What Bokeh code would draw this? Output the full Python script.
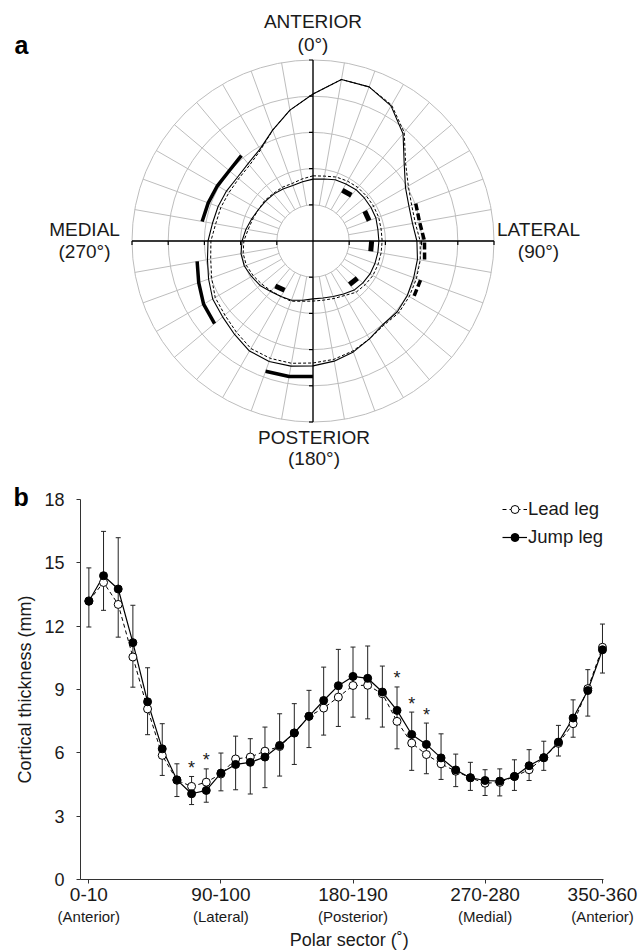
import numpy as np
from bokeh.plotting import figure
from bokeh.models import (Range1d, LinearAxis, FixedTicker, Whisker, ColumnDataSource,
                          Legend, LegendItem, TeeHead)
from bokeh.core.properties import value
from bokeh.embed import file_html
from bokeh.resources import INLINE

FONT = "Liberation Sans"
TXT = "#1a1a1a"

# ---------------- Panel a data (radius in mm at 0,10,...,350 deg, clockwise from anterior)
angles_deg = list(range(0, 360, 10))
outer_jump = [20.3, 22.65, 22.65, 21.55, 19.35, 16.45, 14.75, 14.1, 13.95, 14.35, 14.65, 14.8,
              15.05, 15.2, 15.05, 15.6, 16.3, 16.85, 17.25, 17.55, 17.7, 17.55, 16.85, 16.3,
              16.0, 15.35, 14.8, 14.5, 14.1, 13.95, 13.8, 13.65, 13.95, 14.65, 16.3, 18.35]
outer_lead = [20.3, 22.65, 22.65, 21.7, 19.6, 16.7, 15.2, 14.5, 14.35, 14.8, 15.05, 15.2,
              15.35, 15.45, 15.2, 15.6, 16.15, 16.6, 16.85, 17.15, 17.25, 17.15, 16.45, 15.9,
              15.6, 14.9, 14.35, 14.1, 13.65, 13.55, 13.4, 13.4, 13.65, 14.5, 16.3, 18.35]
inner_jump = [8.55, 8.7, 9.0, 9.1, 9.25, 9.25, 9.25, 9.25, 9.1, 9.1, 9.1, 9.1,
              9.1, 9.0, 8.85, 8.45, 8.15, 8.0, 8.0, 8.3, 8.7, 8.85, 9.1, 9.55,
              9.8, 10.1, 10.1, 9.8, 9.4, 9.0, 8.7, 8.55, 8.45, 8.3, 8.15, 8.3]
inner_lead = [9.0, 9.1, 9.4, 9.55, 9.65, 9.65, 9.65, 9.65, 9.55, 9.55, 9.55, 9.55,
              9.55, 9.4, 9.25, 8.7, 8.45, 8.3, 8.3, 8.45, 8.85, 8.85, 9.0, 9.25,
              9.55, 9.8, 9.8, 9.55, 9.1, 8.85, 8.7, 8.7, 8.55, 8.55, 8.45, 8.7]
ring_radii = [5, 10, 15, 20, 25]
sig_outer_jump = [(180, 200), (230, 260), (280, 320)]
sig_outer_lead = [(70, 100), (110, 120)]
sig_inner_lead = [(30, 40), (60, 70), (90, 100), (130, 140), (210, 220)]
dir_labels = ["ANTERIOR", "(0°)", "MEDIAL", "(270°)", "LATERAL", "(90°)", "POSTERIOR", "(180°)"]

# ---------------- Panel b data
sectors = list(range(36))
jump_leg = [13.18, 14.39, 13.76, 11.22, 8.42, 6.19, 4.72, 4.06, 4.22, 5.04, 5.45, 5.55,
            5.8, 6.35, 6.94, 7.73, 8.48, 9.18, 9.62, 9.53, 8.88, 8.01, 6.87, 6.40,
            5.76, 5.19, 4.82, 4.69, 4.66, 4.88, 5.39, 5.77, 6.51, 7.65, 8.95, 10.88]
lead_leg = [13.2, 14.07, 13.03, 10.54, 8.08, 5.88, 4.7, 4.41, 4.61, 5.0, 5.71, 5.8,
            6.08, 6.3, 6.94, 7.73, 8.12, 8.64, 9.19, 9.2, 8.8, 7.49, 6.46, 5.92,
            5.48, 5.13, 4.82, 4.56, 4.6, 4.88, 5.2, 5.77, 6.45, 7.38, 9.04, 11.0]
err_hi = [14.76, 16.49, 16.19, 12.99, 10.03, 7.38, 5.48, 4.88, 5.24, 5.99, 6.79, 6.67,
          7.22, 7.85, 8.33, 8.96, 10.06, 10.9, 11.01, 11.06, 10.11, 9.12, 7.93, 7.41,
          6.9, 5.94, 5.55, 5.2, 5.24, 5.67, 6.15, 6.55, 7.3, 8.51, 9.94, 12.1]
err_lo = [11.96, 12.75, 11.48, 9.11, 6.86, 4.93, 3.93, 3.55, 3.66, 4.2, 4.25, 4.05,
          4.35, 4.9, 5.45, 6.25, 6.84, 7.25, 7.69, 7.61, 7.22, 6.19, 5.17, 5.01,
          4.74, 4.4, 4.22, 3.98, 3.96, 4.22, 4.69, 5.17, 5.85, 6.74, 7.74, 9.78]
sig_sectors = [7, 8, 21, 22, 23]
y_ticks = [0, 3, 6, 9, 12, 15, 18]
tick_pos = [0, 9, 18, 27, 35]
tick_main = ["0-10", "90-100", "180-190", "270-280", "350-360"]
tick_sub = ["(Anterior)", "(Lateral)", "(Posterior)", "(Medial)", "(Anterior)"]

# ================= layout constants (screen px from top-left) =================
W, H = 642, 952
A_CX, A_CY, A_PXMM = 312.5, 240.5, 7.24       # polar centre, px per mm
B_XL, B_XR = 80.0, 603.0                       # panel b: y-axis x, end of x-axis
B_I0, B_I1 = -0.57, 35.07                      # sector coordinates at B_XL, B_XR
B_Y0, B_Y18 = 879.0, 499.0                     # panel b: px of 0 mm and 18 mm
bx = (B_XR - B_XL) / (B_I1 - B_I0)
by = (B_Y0 - B_Y18) / 18.0

p = figure(width=W, height=H, output_backend="svg", toolbar_location=None,
           x_range=Range1d(B_I0 - B_XL / bx, B_I1 + (W - B_XR) / bx),
           y_range=Range1d(-(H - B_Y0) / by, B_Y0 / by),
           x_axis_location=None, y_axis_location=None,
           min_border=0, outline_line_color=None, background_fill_color="white")
p.grid.visible = False
p.extra_x_ranges = {"ax": Range1d(-A_CX / A_PXMM, (W - A_CX) / A_PXMM)}
p.extra_y_ranges = {"ay": Range1d(-(H - A_CY) / A_PXMM, A_CY / A_PXMM)}
PA = dict(x_range_name="ax", y_range_name="ay")

# ================= Panel a =================
GRID = "#bdbdbd"


def polar_xy(r_list, ang_list):
    t = np.radians(np.asarray(ang_list, dtype=float))
    r = np.asarray(r_list, dtype=float)
    return r * np.sin(t), r * np.cos(t)


p.circle(x=[0] * len(ring_radii), y=[0] * len(ring_radii), radius=ring_radii,
         fill_color=None, line_color=GRID, line_width=1, **PA)
x0, y0 = polar_xy([ring_radii[0]] * 36, angles_deg)
x1, y1 = polar_xy([ring_radii[-1]] * 36, angles_deg)
p.segment(x0=x0, y0=y0, x1=x1, y1=y1, line_color=GRID, line_width=1, **PA)

R = ring_radii[-1]
p.segment(x0=[-R, 0], y0=[0, -R], x1=[R, 0], y1=[0, R], line_color="black", line_width=1.3, **PA)
tk = 4 / A_PXMM
tx = [s * r for r in ring_radii for s in (-1, 1)]
p.segment(x0=tx, y0=[0] * len(tx), x1=tx, y1=[-tk] * len(tx), line_color="black", line_width=1.2, **PA)
p.segment(x0=[0] * len(tx), y0=tx, x1=[-tk] * len(tx), y1=tx, line_color="black", line_width=1.2, **PA)

closed = angles_deg + [360]
for rr, dash, lw in [(outer_lead, "3 2", 1.0), (inner_lead, "3 2", 1.0),
                     (outer_jump, "solid", 1.1), (inner_jump, "solid", 1.1)]:
    xs, ys = polar_xy(rr + [rr[0]], closed)
    p.line(xs, ys, line_color="black", line_width=lw, line_dash=dash, **PA)


def sig_lines(spans, contour, offset):
    xs_all, ys_all = [], []
    for a, b in spans:
        angs = list(range(a, b + 1, 10))
        rs = [contour[(k // 10) % 36] + offset for k in angs]
        xs, ys = polar_xy(rs, angs)
        xs_all.append(list(xs))
        ys_all.append(list(ys))
    return xs_all, ys_all


xs, ys = sig_lines(sig_outer_jump, outer_jump, 1.45)
p.multi_line(xs, ys, line_color="black", line_width=3.5, **PA)
xs, ys = sig_lines(sig_outer_lead, outer_lead, 0.6)
p.multi_line(xs, ys, line_color="black", line_width=3.5, line_dash="7 3", **PA)
xs, ys = sig_lines(sig_inner_lead, inner_jump, -1.0)
p.multi_line(xs, ys, line_color="black", line_width=5, **PA)

# label centres relative to the polar centre (px, up positive)
lab_dx = [0, 0, -228.5, -228.5, 225.5, 225.5, 1, 1]
lab_dy = [219.5, 196.5, 11.2, -10.9, 11.2, -10.9, -196.2, -217.5]
p.text(x=[d / A_PXMM for d in lab_dx], y=[d / A_PXMM for d in lab_dy], text=dir_labels,
       text_align="center", text_baseline="middle",
       text_font=value(FONT), text_font_size="19px", text_color=TXT, **PA)
p.text(x=[(14 - A_CX) / A_PXMM], y=[(A_CY - 44.0) / A_PXMM], text=["a"], text_align="left",
       text_baseline="middle", text_font=value(FONT), text_font_size="25px",
       text_font_style="bold", text_color="black", **PA)

# ================= Panel b =================
AX = "#333333"
yax = LinearAxis(fixed_location=B_I0, bounds=(0, 18), ticker=FixedTicker(ticks=y_ticks),
                 major_label_standoff=12, major_label_text_font_size="18px")
p.add_layout(yax, "left")
xax = LinearAxis(fixed_location=0, bounds=(B_I0, B_I1), ticker=FixedTicker(ticks=tick_pos),
                 major_label_overrides={t: s for t, s in zip(tick_pos, tick_main)},
                 major_label_standoff=4, major_label_text_font_size="19px")
p.add_layout(xax, "below")
for ax in (xax, yax):
    ax.axis_line_color = AX
    ax.major_tick_line_color = AX
    ax.major_tick_out = 4
    ax.major_tick_in = 0
    ax.minor_tick_out = 0
    ax.minor_tick_in = 0
    ax.minor_tick_line_color = None
    ax.major_label_text_font = FONT
    ax.major_label_text_color = TXT

xax2 = LinearAxis(fixed_location=0, bounds=(B_I0, B_I1), ticker=FixedTicker(ticks=tick_pos),
                  major_label_overrides={t: s for t, s in zip(tick_pos, tick_sub)},
                  axis_line_color=None, major_tick_line_color=None, minor_tick_line_color=None,
                  major_tick_out=0, major_tick_in=0, minor_tick_out=0, minor_tick_in=0,
                  major_label_standoff=28, major_label_text_font=FONT,
                  major_label_text_font_size="15px", major_label_text_color=TXT)
p.add_layout(xax2, "below")

# axis titles and panel letter
p.text(x=[B_I0 - (B_XL - 24) / bx], y=[9.0], text=["Cortical thickness (mm)"], angle=np.pi / 2,
       text_align="center", text_baseline="middle", text_font=value(FONT),
       text_font_size="18px", text_color=TXT)
p.text(x=[(B_I0 + B_I1) / 2 + 0.5], y=[-(939.5 - B_Y0) / by], text=["Polar sector (˚)"],
       text_align="center", text_baseline="middle", text_font=value(FONT),
       text_font_size="18px", text_color=TXT)
p.text(x=[B_I0 - (B_XL - 13) / bx], y=[(B_Y0 - 496.3) / by], text=["b"], text_align="left",
       text_baseline="middle", text_font=value(FONT), text_font_size="25px",
       text_font_style="bold", text_color="black")

src = ColumnDataSource(dict(x=sectors, jump=jump_leg, lead=lead_leg, hi=err_hi, lo=err_lo))
p.add_layout(Whisker(base="x", upper="hi", lower="lo", source=src, line_color="#222222",
                     line_width=1,
                     upper_head=TeeHead(size=5, line_color="#222222", line_width=1),
                     lower_head=TeeHead(size=5, line_color="#222222", line_width=1)))

r_lead_line = p.line("x", "lead", source=src, line_color="black", line_width=1.0, line_dash="4 3")
r_jump_line = p.line("x", "jump", source=src, line_color="black", line_width=1.2)
r_lead_pts = p.scatter("x", "lead", source=src, marker="circle", size=8,
                       fill_color="white", line_color="black", line_width=1)
r_jump_pts = p.scatter("x", "jump", source=src, marker="circle", size=8,
                       fill_color="black", line_color="black", line_width=1)

p.text(x=sig_sectors, y=[err_hi[i] for i in sig_sectors], text=["*"] * len(sig_sectors),
       text_align="center", text_baseline="middle", y_offset=-8.5,
       text_font=value(FONT), text_font_size="18px", text_color=TXT)

legend = Legend(items=[LegendItem(label="Lead leg", renderers=[r_lead_line, r_lead_pts]),
                       LegendItem(label="Jump leg", renderers=[r_jump_line, r_jump_pts])],
                location=(502, H - 495 - 56), orientation="vertical",
                glyph_width=25, glyph_height=20, label_height=28, label_standoff=1,
                spacing=0, padding=0, margin=0,
                label_text_font=FONT, label_text_font_size="18.5px", label_text_color=TXT,
                border_line_color=None, background_fill_alpha=0)
p.add_layout(legend)

open("out.html", "w").write(file_html(p, INLINE))
